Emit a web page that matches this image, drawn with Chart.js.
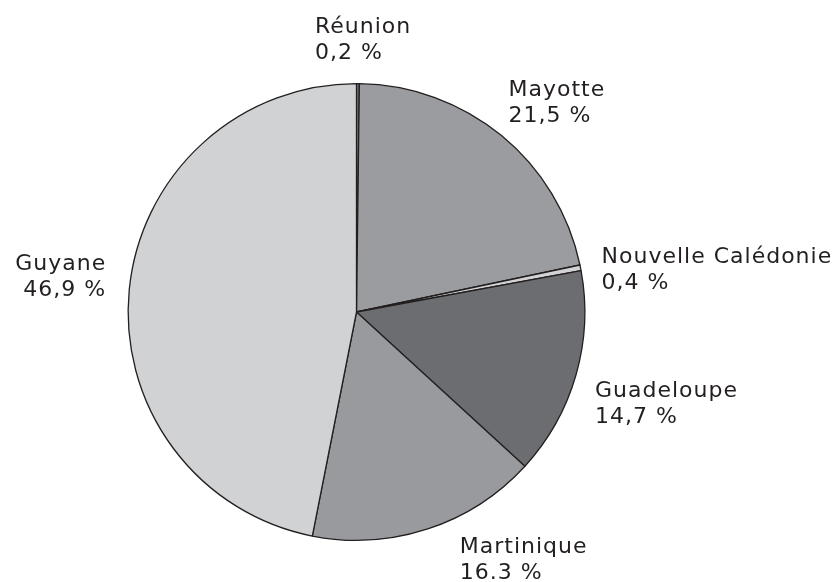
<!DOCTYPE html>
<html>
<head>
<meta charset="utf-8">
<script src="https://cdn.jsdelivr.net/npm/chart.js@4/dist/chart.umd.min.js"></script>
<style>
  html, body { margin: 0; padding: 0; background: #ffffff; }
  #wrap { width: 833px; height: 582px; }
</style>
</head>
<body>
<div id="wrap"><canvas id="c" width="833" height="582"></canvas></div>
<script>
// ---- data ----
const categories = ["Réunion", "Mayotte", "Nouvelle Calédonie", "Guadeloupe", "Martinique", "Guyane"];
const values = [0.2, 21.5, 0.4, 14.7, 16.3, 46.9];
const valueLabels = ["0,2 %", "21,5 %", "0,4 %", "14,7 %", "16.3 %", "46,9 %"];

// ---- styles ----
const sliceColors = ["#7d7e82", "#9b9ca0", "#d3d3d5", "#6c6d71", "#999a9e", "#d1d2d4"];
// label placement relative to the slice's outer mid point
const labelPlacement = [
  { dx: -43, dy: -51, align: "left" },
  { dx: 7, dy: -40, align: "left" },
  { dx: 21, dy: -5, align: "left" },
  { dx: 19, dy: 22, align: "left" },
  { dx: 32, dy: 24, align: "left" },
  { dx: -23, dy: -20, align: "right" }
];

const sliceLabels = {
  id: "sliceLabels",
  afterDatasetsDraw(chart) {
    const ctx = chart.ctx;
    const meta = chart.getDatasetMeta(0);
    ctx.save();
    ctx.fillStyle = "#231f20";
    ctx.font = "22px 'DejaVu Sans'";
    if ("letterSpacing" in ctx) ctx.letterSpacing = "1px";
    ctx.textBaseline = "alphabetic";
    meta.data.forEach((arc, i) => {
      const p = arc.getProps(["x", "y", "startAngle", "endAngle", "outerRadius"], true);
      const mid = (p.startAngle + p.endAngle) / 2;
      const ax = p.x + Math.cos(mid) * p.outerRadius;
      const ay = p.y + Math.sin(mid) * p.outerRadius;
      const pl = labelPlacement[i];
      const x = ax + pl.dx;
      const y = ay + pl.dy;
      ctx.textAlign = pl.align;
      ctx.fillText(categories[i], x, y);
      ctx.fillText(valueLabels[i], x, y + 26);
    });
    ctx.restore();
  }
};

new Chart(document.getElementById("c"), {
  type: "pie",
  data: {
    labels: categories,
    datasets: [{
      data: values,
      backgroundColor: sliceColors,
      borderColor: "#231f20",
      borderWidth: 1.3
    }]
  },
  options: {
    responsive: false,
    animation: false,
    layout: { padding: { top: 83, bottom: 41, left: 127.5, right: 247.5 } },
    plugins: {
      legend: { display: false },
      tooltip: { enabled: false }
    }
  },
  plugins: [sliceLabels]
});
</script>
</body>
</html>
